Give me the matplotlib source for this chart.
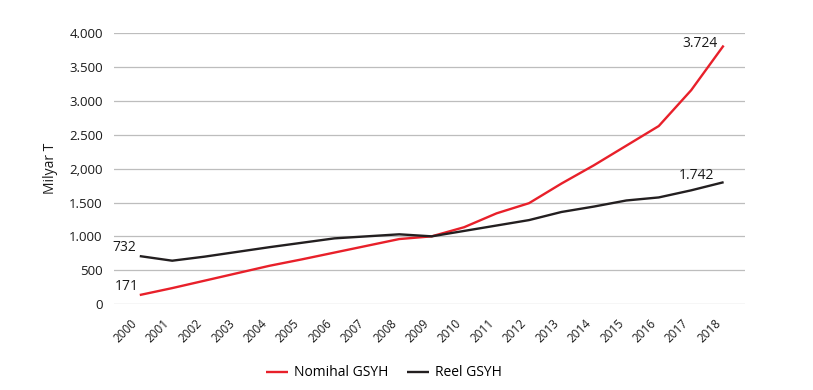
import matplotlib
matplotlib.use("Agg")
import matplotlib.pyplot as plt
from matplotlib.ticker import FixedLocator, FixedFormatter

plt.rcParams["font.family"] = ["Open Sans", "DejaVu Sans"]

years = list(range(2000, 2019))
nominal = [133, 235, 345, 455, 565, 660, 760, 860, 960, 1000,
           1135, 1340, 1490, 1780, 2050, 2340, 2630, 3160, 3820]
real = [708, 640, 700, 770, 840, 905, 970, 1000, 1030, 1000,
        1080, 1160, 1240, 1360, 1440, 1530, 1575, 1680, 1800]
ytick_values = [0, 500, 1000, 1500, 2000, 2500, 3000, 3500, 4000]
ytick_labels = ["0", "500", "1.000", "1.500", "2,000", "2.500", "3.000", "3.500", "4.000"]
xtick_labels = [str(y) for y in years]

fig = plt.figure(figsize=(8.13, 3.9), dpi=100)
ax = fig.add_axes([0.140, 0.2205, 0.776, 0.694])

ax.plot(years, nominal, color="#e8202a", lw=1.7, label="Nomihal GSYH", solid_capstyle="butt")
ax.plot(years, real, color="#231f20", lw=1.7, label="Reel GSYH", solid_capstyle="butt")

ax.set_xlim(1999.2, 2018.65)
ax.set_ylim(0, 4000)
ax.yaxis.set_major_locator(FixedLocator(ytick_values))
ax.yaxis.set_major_formatter(FixedFormatter(ytick_labels))
ax.grid(axis="y", color="#bdbdbd", lw=0.9)
ax.set_axisbelow(True)
for spine in ax.spines.values():
    spine.set_visible(False)

ax.set_xticks(years)
ax.set_xticklabels(xtick_labels)
ax.tick_params(axis="x", length=0, pad=9, labelsize=8.5, labelcolor="#1a1a1a")
plt.setp(ax.get_xticklabels(), rotation=45, ha="right", va="top")
ax.tick_params(axis="y", length=0, pad=8, labelsize=9.5, labelcolor="#1a1a1a")

ax.set_ylabel("Milyar T", fontsize=10, color="#1a1a1a")
ax.yaxis.set_label_coords(-0.088, 0.5)

ax.annotate("732", (years[0], real[0]), xytext=(-11, 6), textcoords="offset points",
            ha="center", va="center", fontsize=10, color="#1a1a1a")
ax.annotate("171", (years[0], nominal[0]), xytext=(-9, 6), textcoords="offset points",
            ha="center", va="center", fontsize=10, color="#1a1a1a")
ax.annotate("3.724", (years[-1], nominal[-1]), xytext=(-17, 1.5), textcoords="offset points",
            ha="center", va="center", fontsize=10, color="#1a1a1a")
ax.annotate("1.742", (years[-1], real[-1]), xytext=(-19.5, 5), textcoords="offset points",
            ha="center", va="center", fontsize=10, color="#1a1a1a")

fig.legend(loc="center", bbox_to_anchor=(384 / 813, 1 - 373 / 390), ncol=2, frameon=False,
           fontsize=10, handlelength=1.6, handletextpad=0.45, columnspacing=1.3)

fig.savefig("out.png", dpi=100)
